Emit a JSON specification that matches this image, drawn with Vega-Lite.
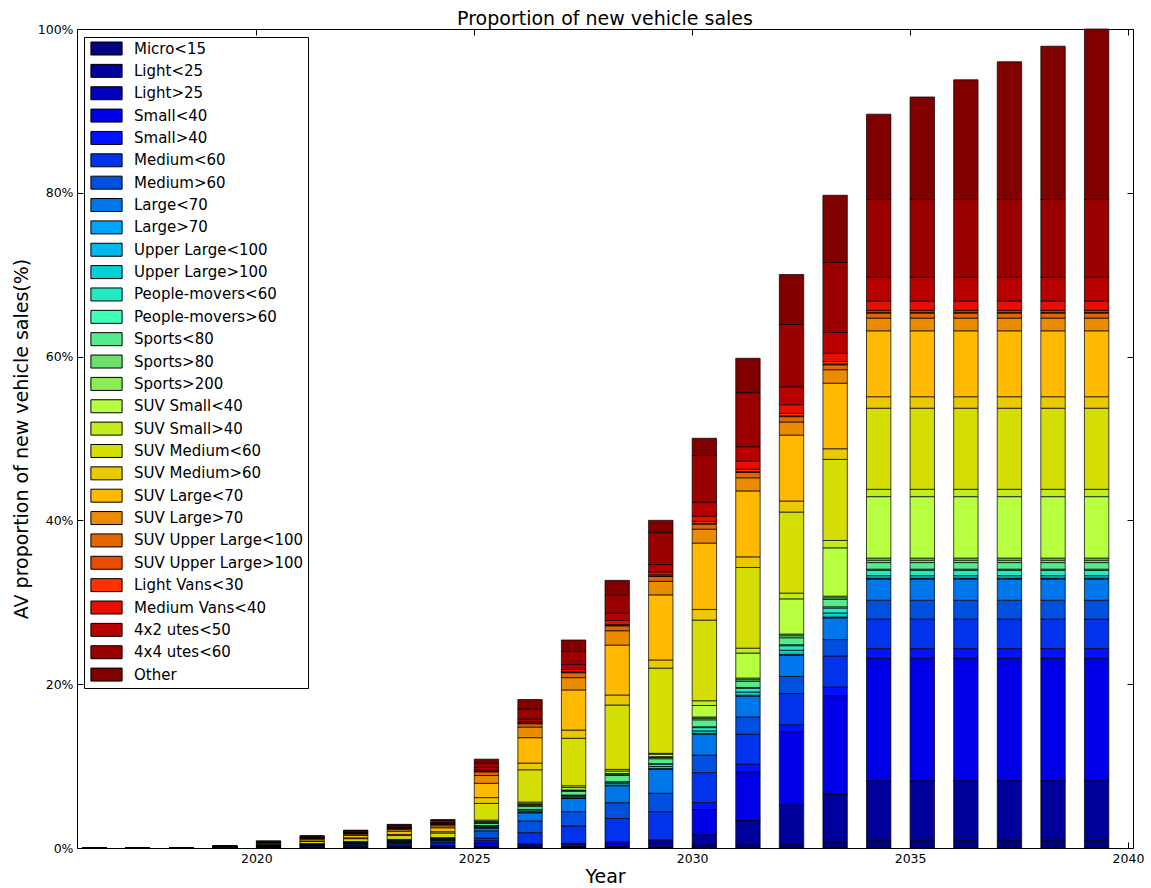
{
  "$schema": "https://vega.github.io/schema/vega-lite/v6.json",
  "width": 1056,
  "height": 819,
  "autosize": {"type": "none"},
  "padding": {"left": 77, "top": 29, "right": 18, "bottom": 40},
  "background": "#ffffff",
  "config": {
    "font": "DejaVu Sans",
    "view": {"stroke": "#000000", "strokeWidth": 1},
    "axis": {"domain": false, "grid": false, "labelColor": "#000000", "tickColor": "#000000", "titleColor": "#000000", "labelFontSize": 12.5, "titleFontSize": 19, "titleFontWeight": "normal", "labelFont": "DejaVu Sans", "titleFont": "DejaVu Sans", "tickSize": -6}
  },
  "title": {"text": "Proportion of new vehicle sales", "fontSize": 19, "fontWeight": "normal", "font": "DejaVu Sans", "color": "#000000", "offset": -6},
  "datasets": {
    "cats": [
      {"type": "Micro<15", "k": 0}, {"type": "Light<25", "k": 1}, {"type": "Light>25", "k": 2}, {"type": "Small<40", "k": 3},
      {"type": "Small>40", "k": 4}, {"type": "Medium<60", "k": 5}, {"type": "Medium>60", "k": 6}, {"type": "Large<70", "k": 7},
      {"type": "Large>70", "k": 8}, {"type": "Upper Large<100", "k": 9}, {"type": "Upper Large>100", "k": 10}, {"type": "People-movers<60", "k": 11},
      {"type": "People-movers>60", "k": 12}, {"type": "Sports<80", "k": 13}, {"type": "Sports>80", "k": 14}, {"type": "Sports>200", "k": 15},
      {"type": "SUV Small<40", "k": 16}, {"type": "SUV Small>40", "k": 17}, {"type": "SUV Medium<60", "k": 18}, {"type": "SUV Medium>60", "k": 19},
      {"type": "SUV Large<70", "k": 20}, {"type": "SUV Large>70", "k": 21}, {"type": "SUV Upper Large<100", "k": 22}, {"type": "SUV Upper Large>100", "k": 23},
      {"type": "Light Vans<30", "k": 24}, {"type": "Medium Vans<40", "k": 25}, {"type": "4x2 utes<50", "k": 26}, {"type": "4x4 utes<60", "k": 27},
      {"type": "Other", "k": 28}
    ],
    "sales": [
      {"year": 2016, "Micro<15": 0, "Light<25": 0, "Light>25": 0, "Small<40": 0, "Small>40": 0, "Medium<60": 0, "Medium>60": 0, "Large<70": 0, "Large>70": 0, "Upper Large<100": 0, "Upper Large>100": 0, "People-movers<60": 0, "People-movers>60": 0, "Sports<80": 0, "Sports>80": 0, "Sports>200": 0, "SUV Small<40": 0, "SUV Small>40": 0, "SUV Medium<60": 0, "SUV Medium>60": 0, "SUV Large<70": 0, "SUV Large>70": 0, "SUV Upper Large<100": 0, "SUV Upper Large>100": 0, "Light Vans<30": 0, "Medium Vans<40": 0, "4x2 utes<50": 0, "4x4 utes<60": 0, "Other": 0},
      {"year": 2017, "Micro<15": 0, "Light<25": 0, "Light>25": 0, "Small<40": 0, "Small>40": 0, "Medium<60": 0, "Medium>60": 0, "Large<70": 0, "Large>70": 0, "Upper Large<100": 0, "Upper Large>100": 0, "People-movers<60": 0, "People-movers>60": 0, "Sports<80": 0, "Sports>80": 0, "Sports>200": 0, "SUV Small<40": 0, "SUV Small>40": 0, "SUV Medium<60": 0, "SUV Medium>60": 0, "SUV Large<70": 0, "SUV Large>70": 0, "SUV Upper Large<100": 0, "SUV Upper Large>100": 0, "Light Vans<30": 0, "Medium Vans<40": 0, "4x2 utes<50": 0, "4x4 utes<60": 0, "Other": 0},
      {"year": 2018, "Micro<15": 0, "Light<25": 0, "Light>25": 0, "Small<40": 0, "Small>40": 0, "Medium<60": 0, "Medium>60": 0, "Large<70": 0, "Large>70": 0, "Upper Large<100": 0, "Upper Large>100": 0, "People-movers<60": 0, "People-movers>60": 0, "Sports<80": 0, "Sports>80": 0, "Sports>200": 0, "SUV Small<40": 0, "SUV Small>40": 0, "SUV Medium<60": 0, "SUV Medium>60": 0, "SUV Large<70": 0, "SUV Large>70": 0, "SUV Upper Large<100": 0, "SUV Upper Large>100": 0, "Light Vans<30": 0, "Medium Vans<40": 0, "4x2 utes<50": 0, "4x4 utes<60": 0, "Other": 0},
      {"year": 2019, "Micro<15": 0.005, "Light<25": 0.01, "Light>25": 0, "Small<40": 0.01, "Small>40": 0.005, "Medium<60": 0.02, "Medium>60": 0.01, "Large<70": 0.01, "Large>70": 0, "Upper Large<100": 0, "Upper Large>100": 0.005, "People-movers<60": 0.005, "People-movers>60": 0, "Sports<80": 0.01, "Sports>80": 0, "Sports>200": 0, "SUV Small<40": 0.005, "SUV Small>40": 0.005, "SUV Medium<60": 0.05, "SUV Medium>60": 0.01, "SUV Large<70": 0.04, "SUV Large>70": 0.01, "SUV Upper Large<100": 0.005, "SUV Upper Large>100": 0, "Light Vans<30": 0, "Medium Vans<40": 0.005, "4x2 utes<50": 0.01, "4x4 utes<60": 0.02, "Other": 0.005},
      {"year": 2020, "Micro<15": 0.02, "Light<25": 0.03, "Light>25": 0, "Small<40": 0.05, "Small>40": 0.02, "Medium<60": 0.05, "Medium>60": 0.04, "Large<70": 0.05, "Large>70": 0.01, "Upper Large<100": 0.01, "Upper Large>100": 0.01, "People-movers<60": 0.02, "People-movers>60": 0.01, "Sports<80": 0.04, "Sports>80": 0.01, "Sports>200": 0.01, "SUV Small<40": 0.03, "SUV Small>40": 0.02, "SUV Medium<60": 0.1, "SUV Medium>60": 0.03, "SUV Large<70": 0.08, "SUV Large>70": 0.03, "SUV Upper Large<100": 0.02, "SUV Upper Large>100": 0.01, "Light Vans<30": 0.01, "Medium Vans<40": 0.02, "4x2 utes<50": 0.03, "4x4 utes<60": 0.06, "Other": 0.05},
      {"year": 2021, "Micro<15": 0.01, "Light<25": 0.03, "Light>25": 0, "Small<40": 0.07, "Small>40": 0.03, "Medium<60": 0.1, "Medium>60": 0.07, "Large<70": 0.07, "Large>70": 0.01, "Upper Large<100": 0.01, "Upper Large>100": 0.01, "People-movers<60": 0.02, "People-movers>60": 0.01, "Sports<80": 0.04, "Sports>80": 0.01, "Sports>200": 0.01, "SUV Small<40": 0.02, "SUV Small>40": 0.02, "SUV Medium<60": 0.25, "SUV Medium>60": 0.07, "SUV Large<70": 0.21, "SUV Large>70": 0.1, "SUV Upper Large<100": 0.07, "SUV Upper Large>100": 0.01, "Light Vans<30": 0.01, "Medium Vans<40": 0.04, "4x2 utes<50": 0.06, "4x4 utes<60": 0.1, "Other": 0.04},
      {"year": 2022, "Micro<15": 0.02, "Light<25": 0.05, "Light>25": 0, "Small<40": 0.1, "Small>40": 0.04, "Medium<60": 0.15, "Medium>60": 0.1, "Large<70": 0.1, "Large>70": 0.01, "Upper Large<100": 0.01, "Upper Large>100": 0.02, "People-movers<60": 0.03, "People-movers>60": 0.01, "Sports<80": 0.05, "Sports>80": 0.02, "Sports>200": 0.02, "SUV Small<40": 0.03, "SUV Small>40": 0.03, "SUV Medium<60": 0.35, "SUV Medium>60": 0.1, "SUV Large<70": 0.3, "SUV Large>70": 0.15, "SUV Upper Large<100": 0.1, "SUV Upper Large>100": 0.02, "Light Vans<30": 0.02, "Medium Vans<40": 0.05, "4x2 utes<50": 0.08, "4x4 utes<60": 0.15, "Other": 0.07},
      {"year": 2023, "Micro<15": 0.03, "Light<25": 0.07, "Light>25": 0, "Small<40": 0.13, "Small>40": 0.05, "Medium<60": 0.2, "Medium>60": 0.13, "Large<70": 0.13, "Large>70": 0.01, "Upper Large<100": 0.01, "Upper Large>100": 0.03, "People-movers<60": 0.04, "People-movers>60": 0.01, "Sports<80": 0.07, "Sports>80": 0.03, "Sports>200": 0.03, "SUV Small<40": 0.04, "SUV Small>40": 0.04, "SUV Medium<60": 0.47, "SUV Medium>60": 0.13, "SUV Large<70": 0.4, "SUV Large>70": 0.2, "SUV Upper Large<100": 0.13, "SUV Upper Large>100": 0.03, "Light Vans<30": 0.03, "Medium Vans<40": 0.07, "4x2 utes<50": 0.1, "4x4 utes<60": 0.2, "Other": 0.08},
      {"year": 2024, "Micro<15": 0.03, "Light<25": 0.08, "Light>25": 0, "Small<40": 0.16, "Small>40": 0.06, "Medium<60": 0.24, "Medium>60": 0.16, "Large<70": 0.16, "Large>70": 0.02, "Upper Large<100": 0.02, "Upper Large>100": 0.03, "People-movers<60": 0.05, "People-movers>60": 0.02, "Sports<80": 0.08, "Sports>80": 0.03, "Sports>200": 0.03, "SUV Small<40": 0.05, "SUV Small>40": 0.05, "SUV Medium<60": 0.56, "SUV Medium>60": 0.16, "SUV Large<70": 0.48, "SUV Large>70": 0.24, "SUV Upper Large<100": 0.16, "SUV Upper Large>100": 0.03, "Light Vans<30": 0.03, "Medium Vans<40": 0.08, "4x2 utes<50": 0.13, "4x4 utes<60": 0.24, "Other": 0.1},
      {"year": 2025, "Micro<15": 0.05, "Light<25": 0.1, "Light>25": 0, "Small<40": 0.45, "Small>40": 0.3, "Medium<60": 0.3, "Medium>60": 0.9, "Large<70": 0.35, "Large>70": 0.02, "Upper Large<100": 0.03, "Upper Large>100": 0.1, "People-movers<60": 0.1, "People-movers>60": 0.05, "Sports<80": 0.25, "Sports>80": 0.1, "Sports>200": 0.05, "SUV Small<40": 0.1, "SUV Small>40": 0.15, "SUV Medium<60": 2.05, "SUV Medium>60": 0.7, "SUV Large<70": 1.75, "SUV Large>70": 0.95, "SUV Upper Large<100": 0.45, "SUV Upper Large>100": 0.05, "Light Vans<30": 0.05, "Medium Vans<40": 0.15, "4x2 utes<50": 0.3, "4x4 utes<60": 0.5, "Other": 0.5},
      {"year": 2026, "Micro<15": 0.05, "Light<25": 0.1, "Light>25": 0, "Small<40": 0.2, "Small>40": 0.14, "Medium<60": 1.38, "Medium>60": 1.43, "Large<70": 1.0, "Large>70": 0.03, "Upper Large<100": 0.03, "Upper Large>100": 0.15, "People-movers<60": 0.15, "People-movers>60": 0.05, "Sports<80": 0.35, "Sports>80": 0.15, "Sports>200": 0.1, "SUV Small<40": 0.1, "SUV Small>40": 0.2, "SUV Medium<60": 3.94, "SUV Medium>60": 0.82, "SUV Large<70": 3.1, "SUV Large>70": 1.3, "SUV Upper Large<100": 0.4, "SUV Upper Large>100": 0.05, "Light Vans<30": 0.05, "Medium Vans<40": 0.15, "4x2 utes<50": 0.35, "4x4 utes<60": 1.2, "Other": 1.16},
      {"year": 2027, "Micro<15": 0.05, "Light<25": 0.12, "Light>25": 0, "Small<40": 0.25, "Small>40": 0.15, "Medium<60": 2.12, "Medium>60": 1.74, "Large<70": 1.64, "Large>70": 0.03, "Upper Large<100": 0.03, "Upper Large>100": 0.15, "People-movers<60": 0.15, "People-movers>60": 0.04, "Sports<80": 0.45, "Sports>80": 0.1, "Sports>200": 0.06, "SUV Small<40": 0.3, "SUV Small>40": 0.22, "SUV Medium<60": 5.8, "SUV Medium>60": 1.0, "SUV Large<70": 4.9, "SUV Large>70": 1.5, "SUV Upper Large<100": 0.6, "SUV Upper Large>100": 0.05, "Light Vans<30": 0.05, "Medium Vans<40": 0.3, "4x2 utes<50": 0.6, "4x4 utes<60": 1.6, "Other": 1.4},
      {"year": 2028, "Micro<15": 0.06, "Light<25": 0.15, "Light>25": 0, "Small<40": 0.36, "Small>40": 0.2, "Medium<60": 2.83, "Medium>60": 1.93, "Large<70": 2.07, "Large>70": 0.03, "Upper Large<100": 0.03, "Upper Large>100": 0.2, "People-movers<60": 0.2, "People-movers>60": 0.04, "Sports<80": 0.75, "Sports>80": 0.15, "Sports>200": 0.1, "SUV Small<40": 0.3, "SUV Small>40": 0.2, "SUV Medium<60": 7.86, "SUV Medium>60": 1.22, "SUV Large<70": 6.1, "SUV Large>70": 1.75, "SUV Upper Large<100": 0.6, "SUV Upper Large>100": 0.05, "Light Vans<30": 0.1, "Medium Vans<40": 0.5, "4x2 utes<50": 0.9, "4x4 utes<60": 2.2, "Other": 1.8},
      {"year": 2029, "Micro<15": 0.15, "Light<25": 0.42, "Light>25": 0, "Small<40": 0.3, "Small>40": 0.11, "Medium<60": 3.45, "Medium>60": 2.25, "Large<70": 2.92, "Large>70": 0.05, "Upper Large<100": 0.05, "Upper Large>100": 0.25, "People-movers<60": 0.3, "People-movers>60": 0.05, "Sports<80": 0.6, "Sports>80": 0.15, "Sports>200": 0.1, "SUV Small<40": 0.3, "SUV Small>40": 0.11, "SUV Medium<60": 10.4, "SUV Medium>60": 1.0, "SUV Large<70": 7.95, "SUV Large>70": 1.65, "SUV Upper Large<100": 0.6, "SUV Upper Large>100": 0.05, "Light Vans<30": 0.15, "Medium Vans<40": 0.35, "4x2 utes<50": 0.9, "4x4 utes<60": 3.9, "Other": 1.5},
      {"year": 2030, "Micro<15": 0.37, "Light<25": 1.23, "Light>25": 0, "Small<40": 3.1, "Small>40": 0.85, "Medium<60": 3.65, "Medium>60": 2.15, "Large<70": 2.55, "Large>70": 0.05, "Upper Large<100": 0.05, "Upper Large>100": 0.3, "People-movers<60": 0.4, "People-movers>60": 0.1, "Sports<80": 0.85, "Sports>80": 0.2, "Sports>200": 0.15, "SUV Small<40": 1.4, "SUV Small>40": 0.58, "SUV Medium<60": 9.85, "SUV Medium>60": 1.3, "SUV Large<70": 8.1, "SUV Large>70": 1.7, "SUV Upper Large<100": 0.6, "SUV Upper Large>100": 0.1, "Light Vans<30": 0.25, "Medium Vans<40": 0.65, "4x2 utes<50": 1.7, "4x4 utes<60": 5.7, "Other": 2.1},
      {"year": 2031, "Micro<15": 0.37, "Light<25": 2.98, "Light>25": 0, "Small<40": 5.95, "Small>40": 0.95, "Medium<60": 3.65, "Medium>60": 2.1, "Large<70": 2.55, "Large>70": 0.05, "Upper Large<100": 0.05, "Upper Large>100": 0.4, "People-movers<60": 0.45, "People-movers>60": 0.1, "Sports<80": 0.75, "Sports>80": 0.2, "Sports>200": 0.2, "SUV Small<40": 3.05, "SUV Small>40": 0.6, "SUV Medium<60": 9.85, "SUV Medium>60": 1.3, "SUV Large<70": 8.05, "SUV Large>70": 1.6, "SUV Upper Large<100": 0.65, "SUV Upper Large>100": 0.1, "Light Vans<30": 0.3, "Medium Vans<40": 1.0, "4x2 utes<50": 1.75, "4x4 utes<60": 6.6, "Other": 4.2},
      {"year": 2032, "Micro<15": 0.4, "Light<25": 4.85, "Light>25": 0, "Small<40": 8.95, "Small>40": 0.85, "Medium<60": 3.8, "Medium>60": 2.1, "Large<70": 2.6, "Large>70": 0.05, "Upper Large<100": 0.05, "Upper Large>100": 0.5, "People-movers<60": 0.55, "People-movers>60": 0.12, "Sports<80": 0.85, "Sports>80": 0.25, "Sports>200": 0.2, "SUV Small<40": 4.3, "SUV Small>40": 0.7, "SUV Medium<60": 9.9, "SUV Medium>60": 1.35, "SUV Large<70": 8.05, "SUV Large>70": 1.6, "SUV Upper Large<100": 0.65, "SUV Upper Large>100": 0.1, "Light Vans<30": 0.3, "Medium Vans<40": 1.05, "4x2 utes<50": 2.2, "4x4 utes<60": 7.6, "Other": 6.1},
      {"year": 2033, "Micro<15": 0.65, "Light<25": 5.95, "Light>25": 0, "Small<40": 12.0, "Small>40": 1.05, "Medium<60": 3.8, "Medium>60": 2.0, "Large<70": 2.65, "Large>70": 0.05, "Upper Large<100": 0.05, "Upper Large>100": 0.5, "People-movers<60": 0.6, "People-movers>60": 0.15, "Sports<80": 0.9, "Sports>80": 0.2, "Sports>200": 0.2, "SUV Small<40": 5.9, "SUV Small>40": 0.9, "SUV Medium<60": 9.9, "SUV Medium>60": 1.3, "SUV Large<70": 8.0, "SUV Large>70": 1.65, "SUV Upper Large<100": 0.6, "SUV Upper Large>100": 0.1, "Light Vans<30": 0.3, "Medium Vans<40": 1.0, "4x2 utes<50": 2.55, "4x4 utes<60": 8.55, "Other": 8.2},
      {"year": 2034, "Micro<15": 0.9, "Light<25": 7.3, "Light>25": 0, "Small<40": 14.95, "Small>40": 1.2, "Medium<60": 3.6, "Medium>60": 2.3, "Large<70": 2.6, "Large>70": 0.05, "Upper Large<100": 0.05, "Upper Large>100": 0.3, "People-movers<60": 0.65, "People-movers>60": 0.15, "Sports<80": 0.8, "Sports>80": 0.3, "Sports>200": 0.25, "SUV Small<40": 7.5, "SUV Small>40": 0.9, "SUV Medium<60": 9.9, "SUV Medium>60": 1.4, "SUV Large<70": 8.05, "SUV Large>70": 1.55, "SUV Upper Large<100": 0.6, "SUV Upper Large>100": 0.1, "Light Vans<30": 0.25, "Medium Vans<40": 1.15, "4x2 utes<50": 2.9, "4x4 utes<60": 9.5, "Other": 10.4},
      {"year": 2035, "Micro<15": 0.9, "Light<25": 7.3, "Light>25": 0, "Small<40": 14.95, "Small>40": 1.2, "Medium<60": 3.6, "Medium>60": 2.3, "Large<70": 2.6, "Large>70": 0.05, "Upper Large<100": 0.05, "Upper Large>100": 0.3, "People-movers<60": 0.65, "People-movers>60": 0.15, "Sports<80": 0.8, "Sports>80": 0.3, "Sports>200": 0.25, "SUV Small<40": 7.5, "SUV Small>40": 0.9, "SUV Medium<60": 9.9, "SUV Medium>60": 1.4, "SUV Large<70": 8.05, "SUV Large>70": 1.55, "SUV Upper Large<100": 0.6, "SUV Upper Large>100": 0.1, "Light Vans<30": 0.25, "Medium Vans<40": 1.15, "4x2 utes<50": 2.9, "4x4 utes<60": 9.5, "Other": 12.5},
      {"year": 2036, "Micro<15": 0.9, "Light<25": 7.3, "Light>25": 0, "Small<40": 14.95, "Small>40": 1.2, "Medium<60": 3.6, "Medium>60": 2.3, "Large<70": 2.6, "Large>70": 0.05, "Upper Large<100": 0.05, "Upper Large>100": 0.3, "People-movers<60": 0.65, "People-movers>60": 0.15, "Sports<80": 0.8, "Sports>80": 0.3, "Sports>200": 0.25, "SUV Small<40": 7.5, "SUV Small>40": 0.9, "SUV Medium<60": 9.9, "SUV Medium>60": 1.4, "SUV Large<70": 8.05, "SUV Large>70": 1.55, "SUV Upper Large<100": 0.6, "SUV Upper Large>100": 0.1, "Light Vans<30": 0.25, "Medium Vans<40": 1.15, "4x2 utes<50": 2.9, "4x4 utes<60": 9.5, "Other": 14.6},
      {"year": 2037, "Micro<15": 0.9, "Light<25": 7.3, "Light>25": 0, "Small<40": 14.95, "Small>40": 1.2, "Medium<60": 3.6, "Medium>60": 2.3, "Large<70": 2.6, "Large>70": 0.05, "Upper Large<100": 0.05, "Upper Large>100": 0.3, "People-movers<60": 0.65, "People-movers>60": 0.15, "Sports<80": 0.8, "Sports>80": 0.3, "Sports>200": 0.25, "SUV Small<40": 7.5, "SUV Small>40": 0.9, "SUV Medium<60": 9.9, "SUV Medium>60": 1.4, "SUV Large<70": 8.05, "SUV Large>70": 1.55, "SUV Upper Large<100": 0.6, "SUV Upper Large>100": 0.1, "Light Vans<30": 0.25, "Medium Vans<40": 1.15, "4x2 utes<50": 2.9, "4x4 utes<60": 9.5, "Other": 16.8},
      {"year": 2038, "Micro<15": 0.9, "Light<25": 7.3, "Light>25": 0, "Small<40": 14.95, "Small>40": 1.2, "Medium<60": 3.6, "Medium>60": 2.3, "Large<70": 2.6, "Large>70": 0.05, "Upper Large<100": 0.05, "Upper Large>100": 0.3, "People-movers<60": 0.65, "People-movers>60": 0.15, "Sports<80": 0.8, "Sports>80": 0.3, "Sports>200": 0.25, "SUV Small<40": 7.5, "SUV Small>40": 0.9, "SUV Medium<60": 9.9, "SUV Medium>60": 1.4, "SUV Large<70": 8.05, "SUV Large>70": 1.55, "SUV Upper Large<100": 0.6, "SUV Upper Large>100": 0.1, "Light Vans<30": 0.25, "Medium Vans<40": 1.15, "4x2 utes<50": 2.9, "4x4 utes<60": 9.5, "Other": 18.7},
      {"year": 2039, "Micro<15": 0.9, "Light<25": 7.3, "Light>25": 0, "Small<40": 14.95, "Small>40": 1.2, "Medium<60": 3.6, "Medium>60": 2.3, "Large<70": 2.6, "Large>70": 0.05, "Upper Large<100": 0.05, "Upper Large>100": 0.3, "People-movers<60": 0.65, "People-movers>60": 0.15, "Sports<80": 0.8, "Sports>80": 0.3, "Sports>200": 0.25, "SUV Small<40": 7.5, "SUV Small>40": 0.9, "SUV Medium<60": 9.9, "SUV Medium>60": 1.4, "SUV Large<70": 8.05, "SUV Large>70": 1.55, "SUV Upper Large<100": 0.6, "SUV Upper Large>100": 0.1, "Light Vans<30": 0.25, "Medium Vans<40": 1.15, "4x2 utes<50": 2.9, "4x4 utes<60": 9.5, "Other": 20.8}
    ]
  },
  "data": {"name": "sales"},
  "transform": [
    {"fold": ["Micro<15", "Light<25", "Light>25", "Small<40", "Small>40", "Medium<60", "Medium>60", "Large<70", "Large>70", "Upper Large<100", "Upper Large>100", "People-movers<60", "People-movers>60", "Sports<80", "Sports>80", "Sports>200", "SUV Small<40", "SUV Small>40", "SUV Medium<60", "SUV Medium>60", "SUV Large<70", "SUV Large>70", "SUV Upper Large<100", "SUV Upper Large>100", "Light Vans<30", "Medium Vans<40", "4x2 utes<50", "4x4 utes<60", "Other"], "as": ["type", "share"]},
    {"lookup": "type", "from": {"data": {"name": "cats"}, "key": "type", "fields": ["k"]}}
  ],
  "layer": [
    {
      "mark": {"type": "bar", "orient": "vertical", "width": 24.4, "xOffset": 12.2, "stroke": "#000000", "strokeWidth": 0.8, "strokeOpacity": 0.9},
      "encoding": {
        "x": {
          "field": "year", "type": "quantitative",
          "scale": {"domain": [2016, 2040], "nice": false, "zero": false},
          "axis": {"orient": "bottom", "values": [2020, 2025, 2030, 2035, 2040], "format": "d", "title": "Year", "labelPadding": 10, "titlePadding": 3}
        },
        "y": {
          "field": "share", "type": "quantitative", "stack": "zero",
          "scale": {"domain": [0, 100], "nice": false},
          "axis": {"orient": "left", "values": [0, 20, 40, 60, 80, 100], "labelExpr": "datum.value + '%'", "title": "AV proportion of new vehicle sales(%)", "labelPadding": 10, "titlePadding": 6}
        },
        "order": {"field": "k", "type": "quantitative", "sort": "ascending"},
        "color": {
          "field": "type", "type": "nominal",
          "scale": {
            "domain": ["Micro<15", "Light<25", "Light>25", "Small<40", "Small>40", "Medium<60", "Medium>60", "Large<70", "Large>70", "Upper Large<100", "Upper Large>100", "People-movers<60", "People-movers>60", "Sports<80", "Sports>80", "Sports>200", "SUV Small<40", "SUV Small>40", "SUV Medium<60", "SUV Medium>60", "SUV Large<70", "SUV Large>70", "SUV Upper Large<100", "SUV Upper Large>100", "Light Vans<30", "Medium Vans<40", "4x2 utes<50", "4x4 utes<60", "Other"],
            "range": ["#000080", "#00009b", "#0000b9", "#0000e8", "#0012ff", "#0033eb", "#0050e0", "#0076eb", "#00a4ff", "#00b8eb", "#05d1d4", "#20ebc3", "#40ffb6", "#56eb8d", "#6ce06c", "#8deb56", "#b6ff41", "#c3eb20", "#d4de05", "#ebc900", "#ffb900", "#eb8b00", "#e06700", "#eb4d00", "#ff3200", "#e80f00", "#b90000", "#9b0000", "#800000"]
          },
          "legend": {
            "title": null, "orient": "none", "legendX": 7, "legendY": 8,
            "symbolType": "M-2.4,-1H2.4V1H-2.4Z", "symbolSize": 169, "symbolStrokeColor": "#000000", "symbolStrokeWidth": 1, "symbolOpacity": 1,
            "symbolOffset": 11, "labelOffset": 20, "labelFontSize": 15, "labelFont": "DejaVu Sans", "labelColor": "#000000", "labelLimit": 300,
            "rowPadding": 5.36, "padding": 4, "strokeColor": "#000000", "fillColor": "#ffffff", "cornerRadius": 0
          }
        }
      }
    },
    {
      "mark": {"type": "bar", "orient": "vertical", "width": 24.4, "xOffset": 12.2, "opacity": 0},
      "encoding": {
        "x": {
          "field": "year", "type": "quantitative",
          "scale": {"domain": [2016, 2040], "nice": false, "zero": false},
          "axis": {"orient": "top", "values": [2020, 2025, 2030, 2035, 2040], "labels": false, "title": null}
        },
        "y": {
          "field": "share", "type": "quantitative", "stack": "zero",
          "scale": {"domain": [0, 100], "nice": false},
          "axis": {"orient": "right", "values": [0, 20, 40, 60, 80, 100], "labels": false, "title": null}
        }
      }
    }
  ],
  "resolve": {"axis": {"x": "independent", "y": "independent"}}
}
